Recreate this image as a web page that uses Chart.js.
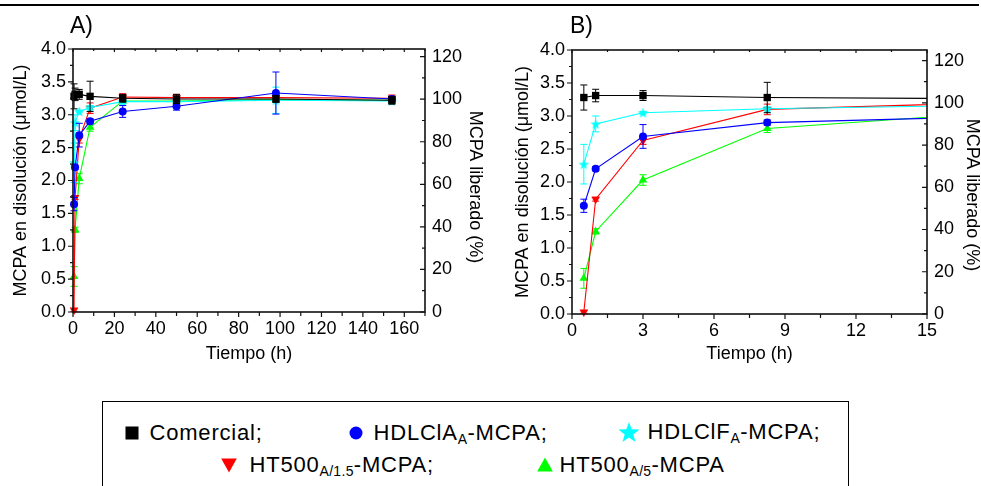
<!DOCTYPE html>
<html>
<head>
<meta charset="utf-8">
<script src="https://cdn.jsdelivr.net/npm/chart.js@4.4.1/dist/chart.umd.min.js"></script>
<style>
  html, body { margin: 0; padding: 0; background: #fff; }
  body { position: relative; width: 981px; height: 486px; overflow: hidden;
         font-family: "Liberation Sans", Arial, sans-serif; color: #000; }
  #rule { position: absolute; left: 0; top: 4px; width: 979px; height: 2px; background: #000; }
  canvas { position: absolute; top: 0; }
  #chartA { left: 0; }
  #chartB { left: 490px; }
  #legend { position: absolute; left: 102px; top: 401px; width: 745px; height: 110px;
            border: 1.5px solid #000; }
  .lg { position: absolute; font-size: 22px; line-height: 22px; letter-spacing: 0.8px; white-space: nowrap; }
  .lg sub { font-size: 14px; vertical-align: -4px; line-height: 0; letter-spacing: 0.3px; }
  .mk { position: absolute; }
</style>
</head>
<body>
<div id="rule"></div>
<canvas id="chartA" width="490" height="380"></canvas>
<canvas id="chartB" width="491" height="380"></canvas>

<div id="legend"></div>

<script>
// ---- measured release data (MCPA in solution, µmol/L) ----
const hours = [0.5, 1, 3, 8.25, 24, 50, 98, 154];

const comercial    = [3.28, 3.31, 3.31, 3.28, 3.25, 3.24, 3.24, 3.22];
const comercialErr = [0.19, 0.095, 0.075, 0.23, 0.06, 0.07, 0.05, 0.06];

const hdlClA    = [1.64, 2.20, 2.69, 2.90, 3.05, 3.13, 3.33, 3.24];
const hdlClAErr = [0.10, 0.03, 0.18, 0.04, 0.09, 0.06, 0.32, 0.04];

const hdlClF    = [2.27, 2.88, 3.05, 3.11, 3.20, 3.20, 3.22, 3.21];
const hdlClFErr = [0.30, 0.12, 0.02, 0.03, 0.03, 0.03, 0.20, 0.03];

const ht500a15    = [0.03, 1.74, 2.63, 3.10, 3.27, 3.26, 3.26, 3.25];
const ht500a15Err = [0.02, 0.03, 0.06, 0.08, 0.05, 0.05, 0.04, 0.05];

const ht500a5    = [0.54, 1.25, 2.03, 2.81, 3.21, 3.21, 3.23, 3.22];
const ht500a5Err = [0.15, 0.04, 0.08, 0.06, 0.03, 0.03, 0.03, 0.03];

// axis ranges and tick steps
const concRange = [0, 4];      const concStep = 0.5;
const timeRangeA = [0, 170];   const timeStepA = 20;
const timeRangeB = [0, 15];    const timeStepB = 3;
const pctMaxA = 123.6;         const pctMaxB = 125;   const pctStep = 20;

const FONT = '"Liberation Sans", Arial, sans-serif';
Chart.defaults.font.family = FONT;
Chart.defaults.font.size = 18;
Chart.defaults.color = '#000';

// filled five-point star used as a point marker
function starCanvas(outer, color) {
  const s = Math.ceil(outer * 2) + 2;
  const c = document.createElement('canvas');
  c.width = s; c.height = s;
  const g = c.getContext('2d');
  g.fillStyle = color;
  g.beginPath();
  for (let i = 0; i < 10; i++) {
    const r = i % 2 === 0 ? outer : outer * 0.42;
    const ang = -Math.PI / 2 + i * Math.PI / 5;
    const px = s / 2 + r * Math.cos(ang), py = s / 2 + r * Math.sin(ang) + outer * 0.1;
    i === 0 ? g.moveTo(px, py) : g.lineTo(px, py);
  }
  g.closePath(); g.fill();
  return c;
}
const starMarker = starCanvas(5.5, '#00ffff');

const seriesDefs = [
  { label: 'Comercial', values: comercial, errors: comercialErr, color: '#000000', style: 'rect', radius: 5.2, rotation: 0 },
  { label: 'HDLClA_A-MCPA', values: hdlClA, errors: hdlClAErr, color: '#0000ff', style: 'circle', radius: 4, rotation: 0 },
  { label: 'HDLClF_A-MCPA', values: hdlClF, errors: hdlClFErr, color: '#00ffff', style: starMarker, radius: 5, rotation: 0 },
  { label: 'HT500_A/1.5-MCPA', values: ht500a15, errors: ht500a15Err, color: '#ff0000', style: 'triangle', radius: 5, rotation: 180 },
  { label: 'HT500_A/5-MCPA', values: ht500a5, errors: ht500a5Err, color: '#00ff00', style: 'triangle', radius: 5, rotation: 0 }
];

function buildDatasets() {
  return seriesDefs.map(s => ({
    label: s.label,
    data: hours.map((h, i) => ({ x: h, y: s.values[i] })),
    errors: s.errors,
    borderColor: s.color,
    backgroundColor: s.color,
    borderWidth: 1.1,
    pointStyle: s.style,
    pointRadius: s.radius,
    pointRotation: s.rotation,
    pointBorderWidth: 0,
    pointBackgroundColor: s.color,
    tension: 0,
    clip: { left: 10, top: 10, right: 0, bottom: 10 }
  }));
}

// vertical error bars with caps, drawn under each series
const errorBars = {
  id: 'errorBars',
  beforeDatasetDraw(chart, args) {
    const ds = chart.data.datasets[args.index];
    if (!ds.errors) return;
    const { ctx, chartArea: a, scales } = chart;
    const ys = scales.y;
    ctx.save();
    ctx.beginPath();
    ctx.rect(a.left - 10, a.top - 10, a.right - a.left + 10, a.bottom - a.top + 20);
    ctx.clip();
    ctx.strokeStyle = ds.borderColor;
    ctx.lineWidth = 1;
    ctx.beginPath();
    args.meta.data.forEach((pt, i) => {
      const e = ds.errors[i];
      if (!e) return;
      const v = ds.data[i].y;
      const x = pt.x;
      const yt = ys.getPixelForValue(v + e), yb = ys.getPixelForValue(v - e);
      ctx.moveTo(x, yt); ctx.lineTo(x, yb);
      ctx.moveTo(x - 3.5, yt); ctx.lineTo(x + 3.5, yt);
      ctx.moveTo(x - 3.5, yb); ctx.lineTo(x + 3.5, yb);
    });
    ctx.stroke();
    ctx.restore();
  }
};

// frame, major/minor tick marks, panel tag and right-hand title
const frame = {
  id: 'frame',
  afterDraw(chart, args, opts) {
    const { ctx, chartArea: a, scales } = chart;
    const withMinors = (scale, step) => {
      const out = [];
      const min = scale.min, max = scale.max;
      for (let v = min; v <= max + 1e-9; v += step / 2) {
        const k = Math.round((v - min) / (step / 2));
        out.push([v, k % 2 === 0]);
      }
      return out;
    };
    ctx.save();
    ctx.strokeStyle = '#111';
    ctx.lineWidth = 1.2;
    ctx.beginPath();
    // bottom (outward) and top (inward)
    withMinors(scales.x, scales.x.options.ticks.stepSize).forEach(([v, major]) => {
      const px = scales.x.getPixelForValue(v);
      if (px > a.right + 0.5) return;
      ctx.moveTo(px, a.bottom); ctx.lineTo(px, a.bottom + (major ? 5 : 4));
      ctx.moveTo(px, a.top); ctx.lineTo(px, a.top + (major ? 3 : 2));
    });
    // left (outward)
    withMinors(scales.y, scales.y.options.ticks.stepSize).forEach(([v, major]) => {
      const py = scales.y.getPixelForValue(v);
      ctx.moveTo(a.left, py); ctx.lineTo(a.left - (major ? 5 : 3), py);
    });
    // right (inward)
    withMinors(scales.y1, scales.y1.options.ticks.stepSize).forEach(([v, major]) => {
      const py = scales.y1.getPixelForValue(v);
      if (py < a.top - 0.5) return;
      ctx.moveTo(a.right, py); ctx.lineTo(a.right - (major ? 5 : 3), py);
    });
    ctx.stroke();
    ctx.lineWidth = 1.6;
    ctx.strokeRect(a.left, a.top, a.right - a.left, a.bottom - a.top);

    ctx.fillStyle = '#000';
    ctx.font = '23px ' + FONT;
    ctx.textAlign = 'left';
    ctx.textBaseline = 'alphabetic';
    ctx.fillText(opts.tag, opts.tagX, opts.tagY);

    ctx.font = '18px ' + FONT;
    ctx.translate(opts.rightX, opts.rightY);
    ctx.rotate(Math.PI / 2);
    ctx.textAlign = 'center';
    ctx.textBaseline = 'middle';
    ctx.fillText(opts.rightTitle, 0, 0);
    ctx.restore();
  }
};

function makeChart(id, cfg) {
  return new Chart(document.getElementById(id), {
    type: 'line',
    data: { datasets: buildDatasets() },
    plugins: [errorBars, frame],
    options: {
      responsive: false,
      animation: false,
      devicePixelRatio: 1,
      layout: { padding: { top: cfg.top, left: 0, right: 0, bottom: 0 } },
      plugins: {
        legend: { display: false },
        tooltip: { enabled: false },
        frame: { tag: cfg.tag, tagX: cfg.tagX, tagY: 33, rightTitle: 'MCPA liberado (%)', rightX: cfg.rightX, rightY: cfg.rightY }
      },
      scales: {
        x: {
          type: 'linear', min: cfg.xRange[0], max: cfg.xRange[1],
          grid: { display: false, drawTicks: false }, border: { display: false },
          ticks: { stepSize: cfg.xStep, includeBounds: false, padding: 6, maxRotation: 0 },
          title: { display: true, text: 'Tiempo (h)', font: { size: 18 }, padding: { top: 0, bottom: 15 } },
          afterFit: s => { s.height = cfg.xHeight; }
        },
        y: {
          type: 'linear', position: 'left', min: concRange[0], max: concRange[1],
          grid: { display: false, drawTicks: false }, border: { display: false },
          ticks: { stepSize: concStep, padding: 7, callback: v => v.toFixed(1) },
          title: { display: true, text: 'MCPA en disolución (μmol/L)', font: { size: 18 }, padding: { top: cfg.leftTitlePad, bottom: 0 } },
          afterFit: s => { s.width = cfg.leftWidth; }
        },
        y1: {
          type: 'linear', position: 'right', min: 0, max: cfg.pctMax,
          grid: { display: false, drawTicks: false }, border: { display: false },
          ticks: { stepSize: pctStep, includeBounds: false, padding: 7 },
          afterFit: s => { s.width = cfg.rightWidth; }
        }
      }
    }
  });
}

makeChart('chartA', {
  tag: 'A)', tagX: 70, top: 49, xRange: timeRangeA, xStep: timeStepA, pctMax: pctMaxA,
  xHeight: 68, leftWidth: 73, rightWidth: 65, leftTitlePad: 10, rightX: 475, rightY: 187
});
makeChart('chartB', {
  tag: 'B)', tagX: 80, top: 50, xRange: timeRangeB, xStep: timeStepB, pctMax: pctMaxB,
  xHeight: 66, leftWidth: 82, rightWidth: 54, leftTitlePad: 22, rightX: 482, rightY: 195
});

// ---- legend box ----
const legendItems = [
  { def: 0, mx: 132, my: 433, tx: 150, html: 'Comercial;' },
  { def: 1, mx: 356, my: 433, tx: 374, html: 'HDLClA<sub>A</sub>-MCPA;' },
  { def: 2, mx: 629, my: 432, tx: 648, html: 'HDLClF<sub>A</sub>-MCPA;' },
  { def: 3, mx: 229.5, my: 465, tx: 250, html: 'HT500<sub>A/1.5</sub>-MCPA;' },
  { def: 4, mx: 545, my: 465, tx: 560, html: 'HT500<sub>A/5</sub>-MCPA' }
];
const legendBox = document.getElementById('legend');
const boxLeft = 102 + 1.5, boxTop = 401 + 1.5;

function markerSvg(kind, color) {
  const sz = 22, c = sz / 2;
  let shape;
  if (kind === 0) shape = `<rect x="${c - 6.5}" y="${c - 6.5}" width="13" height="13" fill="${color}"/>`;
  else if (kind === 1) shape = `<circle cx="${c}" cy="${c}" r="6.5" fill="${color}"/>`;
  else if (kind === 2) {
    let pts = [];
    for (let i = 0; i < 10; i++) {
      const r = i % 2 === 0 ? 11 : 4.6;
      const ang = -Math.PI / 2 + i * Math.PI / 5;
      pts.push((c + r * Math.cos(ang)).toFixed(2) + ',' + (c + 1 + r * Math.sin(ang)).toFixed(2));
    }
    shape = `<polygon points="${pts.join(' ')}" fill="${color}"/>`;
  } else if (kind === 3) shape = `<polygon points="${c - 7.8},${c - 6.5} ${c + 7.8},${c - 6.5} ${c},${c + 7.5}" fill="${color}"/>`;
  else shape = `<polygon points="${c - 7.8},${c + 6.5} ${c + 7.8},${c + 6.5} ${c},${c - 7.5}" fill="${color}"/>`;
  return `<svg width="${sz}" height="${sz}" viewBox="0 0 ${sz} ${sz}">${shape}</svg>`;
}

legendItems.forEach(it => {
  const m = document.createElement('div');
  m.className = 'mk';
  m.style.left = (it.mx - 11 - boxLeft) + 'px';
  m.style.top = (it.my - 11 - boxTop) + 'px';
  m.innerHTML = markerSvg(it.def, seriesDefs[it.def].color);
  legendBox.appendChild(m);
  const t = document.createElement('div');
  t.className = 'lg';
  t.style.left = (it.tx - boxLeft) + 'px';
  t.style.top = (it.my - 10.7 - boxTop) + 'px';
  t.innerHTML = it.html;
  legendBox.appendChild(t);
});
</script>
</body>
</html>
